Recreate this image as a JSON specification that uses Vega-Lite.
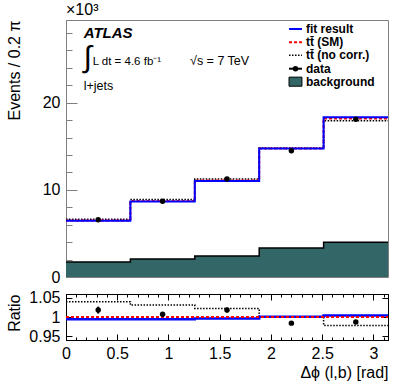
{
  "$schema": "https://vega.github.io/schema/vega-lite/v6.json",
  "padding": {"left": 5, "top": 1, "right": 5, "bottom": 5},
  "bounds": "flush",
  "spacing": 17,
  "background": "white",
  "config": {
    "font": "Liberation Sans",
    "view": {"stroke": null},
    "axis": {
      "labelFont": "Liberation Sans", "titleFont": "Liberation Sans",
      "labelFontSize": 16, "titleFontSize": 16, "titleFontWeight": "normal",
      "labelColor": "black", "titleColor": "black", "grid": false,
      "domainColor": "black", "tickColor": "black", "labelFlush": false, "labelOverlap": false
    },
    "title": {"font": "Liberation Sans", "fontWeight": "normal"}
  },
  "datasets": {
    "hist": [
      {"edge": 0, "fit": 6.45, "sm": 6.49, "nocorr": 6.64, "bkg": 1.72},
      {"edge": 0.6283, "fit": 8.66, "sm": 8.71, "nocorr": 8.89, "bkg": 2.06},
      {"edge": 1.2566, "fit": 11.03, "sm": 11.07, "nocorr": 11.26, "bkg": 2.40},
      {"edge": 1.885, "fit": 14.76, "sm": 14.76, "nocorr": 14.8, "bkg": 3.32},
      {"edge": 2.5133, "fit": 18.35, "sm": 18.2, "nocorr": 17.93, "bkg": 4.0},
      {"edge": 3.1416, "fit": 18.35, "sm": 18.2, "nocorr": 17.93, "bkg": 4.0}
    ],
    "pts": [
      {"x": 0.3142, "val": 6.57},
      {"x": 0.9425, "val": 8.70},
      {"x": 1.5708, "val": 11.26},
      {"x": 2.1991, "val": 14.5},
      {"x": 2.8274, "val": 18.12}
    ],
    "ratio": [
      {"edge": 0, "rfit": 0.994, "rsm": 1.0, "rnocorr": 1.040},
      {"edge": 0.6283, "rfit": 0.994, "rsm": 1.0, "rnocorr": 1.031},
      {"edge": 1.2566, "rfit": 0.996, "rsm": 1.0, "rnocorr": 1.022},
      {"edge": 1.885, "rfit": 1.0004, "rsm": 1.0, "rnocorr": 1.0},
      {"edge": 2.5133, "rfit": 1.004, "rsm": 1.0, "rnocorr": 0.978},
      {"edge": 3.1416, "rfit": 1.004, "rsm": 1.0, "rnocorr": 0.978}
    ],
    "rpts": [
      {"x": 0.3142, "r": 1.018, "err": 0.009},
      {"x": 0.9425, "r": 1.007, "err": 0.006},
      {"x": 1.5708, "r": 1.018, "err": 0.006},
      {"x": 2.1991, "r": 0.984, "err": 0.002},
      {"x": 2.8274, "r": 0.987, "err": 0.002}
    ]
  },
  "vconcat": [
    {
      "width": 322,
      "height": 257,
      "view": {"stroke": "#7f7f7f", "strokeWidth": 1},
      "title": {"text": "×10³", "anchor": "start", "frame": "group", "fontSize": 16, "offset": 2, "fontWeight": "normal"},
      "data": {"name": "hist"},
      "layer": [
        {
          "mark": {"type": "area", "interpolate": "step-after", "color": "#336666"},
          "encoding": {
            "x": {"field": "edge", "type": "quantitative", "scale": {"domain": [0, 3.14159], "nice": false, "zero": false}, "axis": null},
            "y": {"field": "bkg", "type": "quantitative", "scale": {"domain": [0, 29.5], "nice": false, "zero": false},
              "axis": {
                "orient": "left",
                "values": [0, 2, 4, 6, 8, 10, 12, 14, 16, 18, 20, 22, 24, 26, 28],
                "labels": false, "title": null,
                "tickSize": -6,
                "tickColor": "#7f7f7f", "domainColor": "#7f7f7f"
              }}
          }
        },
        {
          "mark": {"type": "line", "interpolate": "step-after", "color": "black", "strokeWidth": 1.5},
          "encoding": {
            "x": {"field": "edge", "type": "quantitative", "axis": null},
            "y": {"field": "bkg", "type": "quantitative",
              "axis": {
                "orient": "left",
                "values": [0, 10, 20],
                "tickSize": -11,
                "tickColor": "#7f7f7f", "domainColor": "#7f7f7f",
                "labelPadding": 17,
                "title": "Events / 0.2 π", "titleAnchor": "end", "titleX": -47, "titleBaseline": "alphabetic", "titleAngle": -90
              }}
          }
        },
        {
          "mark": {"type": "line", "interpolate": "step-after", "strokeWidth": 1.5, "strokeDash": [1.5, 1.5], "color": "black"},
          "encoding": {
            "x": {"field": "edge", "type": "quantitative", "axis": null},
            "y": {"field": "nocorr", "type": "quantitative", "axis": null}
          }
        },
        {
          "mark": {"type": "line", "interpolate": "step-after", "strokeWidth": 2, "strokeDash": [3, 2], "color": "#ff0000"},
          "encoding": {
            "x": {"field": "edge", "type": "quantitative", "axis": null},
            "y": {"field": "sm", "type": "quantitative", "axis": null}
          }
        },
        {
          "mark": {"type": "line", "interpolate": "step-after", "strokeWidth": 2, "color": "#0000ff"},
          "encoding": {
            "x": {"field": "edge", "type": "quantitative", "axis": null},
            "y": {"field": "fit", "type": "quantitative", "axis": null}
          }
        },
        {
          "data": {"name": "pts"},
          "mark": {"type": "point", "filled": true, "size": 30, "opacity": 1, "color": "black"},
          "encoding": {
            "x": {"field": "x", "type": "quantitative", "axis": null},
            "y": {"field": "val", "type": "quantitative", "axis": null}
          }
        },
        {
          "data": {"values": [{}]},
          "mark": {"type": "rule", "color": "#0000ff", "strokeWidth": 2},
          "encoding": {"x": {"datum": 2.176, "axis": null}, "x2": {"datum": 2.302}, "y": {"datum": 28.47, "axis": null}}
        },
        {
          "data": {"values": [{}]},
          "mark": {"type": "rule", "color": "#ff0000", "strokeWidth": 2, "strokeDash": [3, 2]},
          "encoding": {"x": {"datum": 2.176, "axis": null}, "x2": {"datum": 2.302}, "y": {"datum": 26.94, "axis": null}}
        },
        {
          "data": {"values": [{}]},
          "mark": {"type": "rule", "color": "black", "strokeWidth": 1.5, "strokeDash": [1.5, 1.5]},
          "encoding": {"x": {"datum": 2.176, "axis": null}, "x2": {"datum": 2.302}, "y": {"datum": 25.45, "axis": null}}
        },
        {
          "data": {"values": [{}]},
          "mark": {"type": "rule", "color": "black", "strokeWidth": 2},
          "encoding": {"x": {"datum": 2.176, "axis": null}, "x2": {"datum": 2.302}, "y": {"datum": 23.91, "axis": null}}
        },
        {
          "data": {"values": [{}]},
          "mark": {"type": "point", "filled": true, "size": 30, "opacity": 1, "color": "black"},
          "encoding": {"x": {"datum": 2.239, "axis": null}, "y": {"datum": 23.91, "axis": null}}
        },
        {
          "data": {"values": [{}]},
          "mark": {"type": "rect", "fill": "#336666", "stroke": "black", "strokeWidth": 1},
          "encoding": {"x": {"datum": 2.176, "axis": null}, "x2": {"datum": 2.302}, "y": {"datum": 21.9, "axis": null}, "y2": {"datum": 22.94}}
        },
        {
          "data": {"values": [{}]},
          "mark": {"type": "text", "text": "fit result", "fontWeight": "bold", "fontSize": 12, "align": "left", "baseline": "middle", "color": "black"},
          "encoding": {"x": {"datum": 2.341, "axis": null}, "y": {"datum": 28.47, "axis": null}}
        },
        {
          "data": {"values": [{}]},
          "mark": {"type": "text", "text": "tt̄ (SM)", "fontWeight": "bold", "fontSize": 12, "align": "left", "baseline": "middle", "color": "black"},
          "encoding": {"x": {"datum": 2.341, "axis": null}, "y": {"datum": 26.94, "axis": null}}
        },
        {
          "data": {"values": [{}]},
          "mark": {"type": "text", "text": "tt̄ (no corr.)", "fontWeight": "bold", "fontSize": 12, "align": "left", "baseline": "middle", "color": "black"},
          "encoding": {"x": {"datum": 2.341, "axis": null}, "y": {"datum": 25.45, "axis": null}}
        },
        {
          "data": {"values": [{}]},
          "mark": {"type": "text", "text": "data", "fontWeight": "bold", "fontSize": 12, "align": "left", "baseline": "middle", "color": "black"},
          "encoding": {"x": {"datum": 2.341, "axis": null}, "y": {"datum": 23.91, "axis": null}}
        },
        {
          "data": {"values": [{}]},
          "mark": {"type": "text", "text": "background", "fontWeight": "bold", "fontSize": 12, "align": "left", "baseline": "middle", "color": "black"},
          "encoding": {"x": {"datum": 2.341, "axis": null}, "y": {"datum": 22.42, "axis": null}}
        },
        {
          "data": {"values": [{}]},
          "mark": {"type": "text", "text": "ATLAS", "fontStyle": "italic", "fontWeight": "bold", "fontSize": 15, "align": "left", "baseline": "alphabetic", "color": "black"},
          "encoding": {"x": {"datum": 0.173, "axis": null}, "y": {"datum": 27.46, "axis": null}}
        },
        {
          "data": {"values": [{}]},
          "mark": {"type": "text", "text": "∫", "fontSize": 30, "align": "left", "baseline": "middle", "color": "black"},
          "encoding": {"x": {"datum": 0.17, "axis": null}, "y": {"datum": 25.14, "axis": null}}
        },
        {
          "data": {"values": [{}]},
          "mark": {"type": "text", "text": "L dt = 4.6 fb⁻¹", "fontSize": 11.5, "align": "left", "baseline": "alphabetic", "color": "black"},
          "encoding": {"x": {"datum": 0.26, "axis": null}, "y": {"datum": 24.38, "axis": null}}
        },
        {
          "data": {"values": [{}]},
          "mark": {"type": "text", "text": "√s = 7 TeV", "fontSize": 12.5, "align": "left", "baseline": "alphabetic", "color": "black"},
          "encoding": {"x": {"datum": 1.21, "axis": null}, "y": {"datum": 24.38, "axis": null}}
        },
        {
          "data": {"values": [{}]},
          "mark": {"type": "text", "text": "l+jets", "fontSize": 12.5, "align": "left", "baseline": "alphabetic", "color": "black"},
          "encoding": {"x": {"datum": 0.173, "axis": null}, "y": {"datum": 21.51, "axis": null}}
        }
      ],
      "resolve": {"axis": {"y": "independent"}}
    },
    {
      "width": 322,
      "height": 46,
      "view": {"stroke": "black", "strokeWidth": 1},
      "layer": [
        {
          "data": {"name": "ratio"},
          "mark": {"type": "line", "interpolate": "step-after", "strokeWidth": 1.5, "strokeDash": [1.5, 1.5], "color": "black"},
          "encoding": {
            "x": {"field": "edge", "type": "quantitative", "scale": {"domain": [0, 3.14159], "nice": false, "zero": false},
              "axis": {
                "orient": "bottom",
                "values": [0, 0.5, 1, 1.5, 2, 2.5, 3],
                "format": "~g",
                "tickSize": -6,
                "labelPadding": 11,
                "title": "Δϕ (l,b) [rad]", "titleAnchor": "end", "titlePadding": 3
              }},
            "y": {"field": "rnocorr", "type": "quantitative", "scale": {"domain": [0.94, 1.06], "nice": false, "zero": false},
              "axis": {
                "orient": "left",
                "values": [0.95, 1, 1.05],
                "format": "~g",
                "tickSize": -6,
                "labelPadding": 12,
                "title": "Ratio", "titleAnchor": "end", "titleX": -47, "titleBaseline": "alphabetic", "titleAngle": -90
              }}
          }
        },
        {
          "data": {"name": "ratio"},
          "mark": {"type": "line", "interpolate": "step-after", "strokeWidth": 2.5, "color": "#0000ff"},
          "encoding": {
            "x": {"field": "edge", "type": "quantitative",
              "axis": {
                "orient": "bottom",
                "values": [0.1, 0.2, 0.3, 0.4, 0.6, 0.7, 0.8, 0.9, 1.1, 1.2, 1.3, 1.4, 1.6, 1.7, 1.8, 1.9, 2.1, 2.2, 2.3, 2.4, 2.6, 2.7, 2.8, 2.9, 3.1],
                "labels": false, "title": null, "tickSize": -3
              }},
            "y": {"field": "rfit", "type": "quantitative",
              "axis": {"orient": "right", "values": [0.95, 1, 1.05], "labels": false, "title": null, "tickSize": -6}}
          }
        },
        {
          "data": {"name": "ratio"},
          "mark": {"type": "line", "interpolate": "step-after", "strokeWidth": 2, "strokeDash": [3, 2], "color": "#ff0000"},
          "encoding": {
            "x": {"field": "edge", "type": "quantitative",
              "axis": {"orient": "top", "values": [0, 0.5, 1, 1.5, 2, 2.5, 3], "labels": false, "title": null, "tickSize": -6}},
            "y": {"field": "rsm", "type": "quantitative", "axis": null}
          }
        },
        {
          "data": {"name": "rpts"},
          "mark": {"type": "errorbar", "color": "black", "thickness": 2, "ticks": false},
          "encoding": {
            "x": {"field": "x", "type": "quantitative", "axis": null},
            "y": {"field": "r", "type": "quantitative", "axis": null},
            "yError": {"field": "err"}
          }
        },
        {
          "data": {"name": "rpts"},
          "mark": {"type": "point", "filled": true, "size": 30, "opacity": 1, "color": "black"},
          "encoding": {
            "x": {"field": "x", "type": "quantitative",
              "axis": {
                "orient": "top",
                "values": [0.1, 0.2, 0.3, 0.4, 0.6, 0.7, 0.8, 0.9, 1.1, 1.2, 1.3, 1.4, 1.6, 1.7, 1.8, 1.9, 2.1, 2.2, 2.3, 2.4, 2.6, 2.7, 2.8, 2.9, 3.1],
                "labels": false, "title": null, "tickSize": -3
              }},
            "y": {"field": "r", "type": "quantitative", "axis": null}
          }
        }
      ],
      "resolve": {"axis": {"x": "independent", "y": "independent"}}
    }
  ]
}
